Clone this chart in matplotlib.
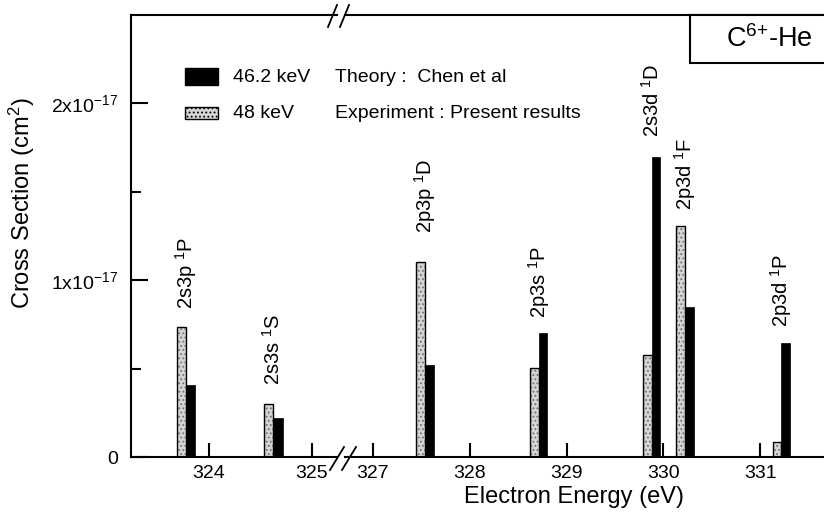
import matplotlib
matplotlib.use("Agg")
import matplotlib.pyplot as plt
from matplotlib.patches import Rectangle
from matplotlib.lines import Line2D

plt.rcParams["font.family"] = "Liberation Sans"
plt.rcParams["mathtext.default"] = "regular"
plt.rcParams["font.size"] = 14
plt.rcParams["hatch.linewidth"] = 0.8

# dados (secção de choque em unidades de 1e-17 cm2)
states = ["2s3p $^1$P", "2s3s $^1$S", "2p3p $^1$D", "2p3s $^1$P",
          "2s3d $^1$D", "2p3d $^1$F", "2p3d $^1$P"]
energy = [323.777, 324.624, 327.536, 328.711, 329.879, 330.224, 331.22]
experiment = [0.736, 0.298, 1.103, 0.501, 0.576, 1.305, 0.087]  # 48 keV
theory = [0.407, 0.219, 0.52, 0.699, 1.697, 0.846, 0.646]       # 46.2 keV
label_y = [0.836, 0.407, 1.265, 0.785, 1.81, 1.395, 0.734]

left_ticks = [324, 325]
right_ticks = [327, 328, 329, 330, 331]
width = 0.09

W, H = 824, 514


def fx(px):
    return px / W


def fy(py):
    return 1 - py / H


fig = plt.figure(figsize=(W / 100, H / 100), dpi=100)

bottom, top = 457, 15
ax1 = fig.add_axes([fx(131), fy(bottom), (337 - 131) / W, (bottom - top) / H])
ax2 = fig.add_axes([fx(345), fy(bottom), (W - 345) / W, (bottom - top) / H])

ax1.set_xlim(323.243, 325.243)
ax2.set_xlim(326.711, 331.66)

for ax in (ax1, ax2):
    x_exp = [e - width / 2 for e in energy]
    x_th = [e + width / 2 for e in energy]
    # experimental: pontilhado cinza
    ax.bar(x_exp, experiment, width, color="#d4d4d4", hatch="....",
           edgecolor="#707070", linewidth=0)
    ax.bar(x_exp, experiment, width, fill=False, edgecolor="black",
           linewidth=1.0)
    ax.bar(x_th, theory, width, color="black", edgecolor="black",
           linewidth=0.5)

    ax.set_ylim(0, 2.5)
    ax.spines["right"].set_visible(False)
    for s in ax.spines.values():
        s.set_linewidth(1.5)
    ax.tick_params(axis="x", direction="in", length=10, width=1.5, pad=6)

ax2.spines["left"].set_visible(False)
ax2.tick_params(axis="y", left=False, labelleft=False)

ax1.set_xticks(left_ticks)
ax2.set_xticks(right_ticks)

ax1.set_yticks([0, 1, 2])
ax1.set_yticklabels(["0", "1x10$^{-17}$", "2x10$^{-17}$"])
ax1.set_yticks([0.5, 1.5], minor=True)
ax1.tick_params(axis="y", which="major", direction="in", length=12,
                width=1.5, pad=9)
ax1.tick_params(axis="y", which="minor", direction="in", length=7,
                width=1.5)

# rótulos dos estados
for name, e, ly in zip(states, energy, label_y):
    ax = ax1 if e < 326 else ax2
    ax.text(e, ly, name, rotation=90, ha="center", va="bottom",
            fontsize=14.5)

ax1.set_ylabel("Cross Section (cm$^2$)", fontsize=17)
ax1.yaxis.set_label_coords((37 - 131) / (337 - 131),
                           (bottom - 203) / (bottom - top))
fig.text(fx(574), fy(497), "Electron Energy (eV)", ha="center",
         va="center", fontsize=17)

# marcas de quebra do eixo
for (x0, y0, x1, y1) in [(330, 470, 344, 447), (342, 470, 356, 447),
                         (328, 27, 337, 5), (340, 27, 349, 5)]:
    fig.add_artist(Line2D([fx(x0), fx(x1)], [fy(y0), fy(y1)],
                          color="black", linewidth=1.3))

# legenda
fig.add_artist(Rectangle((fx(185), fy(85)), 33 / W, 17 / H,
                         facecolor="black", edgecolor="black"))
fig.add_artist(Rectangle((fx(185), fy(119)), 33 / W, 12 / H,
                         facecolor="#d4d4d4", hatch="....",
                         edgecolor="black", linewidth=1.0))
fig.text(fx(233), fy(77), "46.2 keV", va="center")
fig.text(fx(335), fy(77), "Theory :  Chen et al", va="center")
fig.text(fx(233), fy(113), "48 keV", va="center")
fig.text(fx(335), fy(113), "Experiment : Present results", va="center")

# caixa C6+-He
fig.add_artist(Rectangle((fx(690), fy(63)), 150 / W, 48 / H,
                         facecolor="white", edgecolor="black",
                         linewidth=1.5))
fig.text(fx(769), fy(39), "C$^{6{+}}$-He", ha="center", va="center",
         fontsize=19.5)

fig.savefig("out.png", dpi=100)
